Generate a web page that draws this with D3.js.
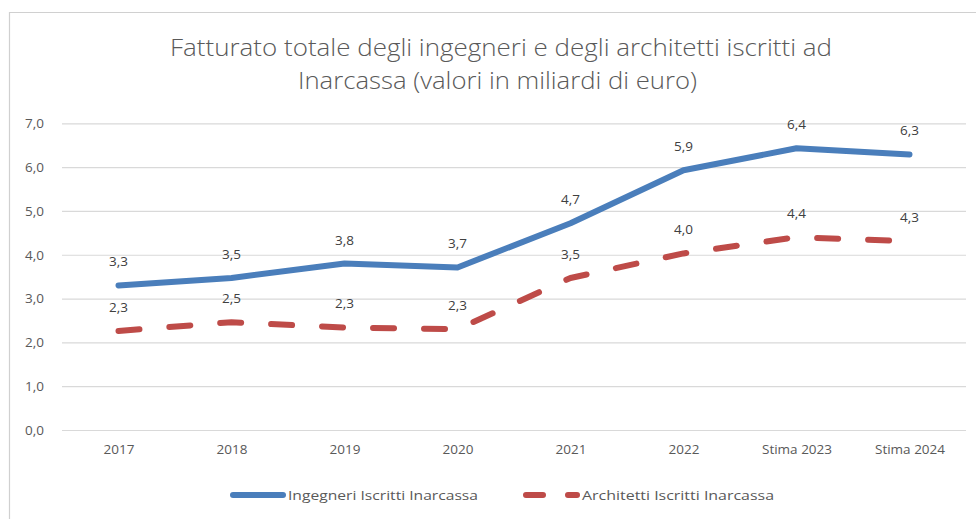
<!DOCTYPE html>
<html><head><meta charset="utf-8">
<script src="https://cdn.jsdelivr.net/npm/d3@7"></script>
<style>
html,body{margin:0;padding:0;background:#fff;}
svg{display:block;font-family:"Open Sans",Lato,sans-serif;}
</style></head>
<body><svg id="c" width="976" height="519"></svg>
<script>
const categories = ["2017","2018","2019","2020","2021","2022","Stima 2023","Stima 2024"];
const ingegneri = [3.30,3.47,3.80,3.71,4.72,5.93,6.43,6.29];
const architetti = [2.26,2.46,2.34,2.30,3.47,4.03,4.40,4.31];
const yTicks = [0,1,2,3,4,5,6,7];
const seriesNames = ["Ingegneri Iscritti Inarcassa","Architetti Iscritti Inarcassa"];
const titleLines = ["Fatturato totale degli ingegneri e degli architetti iscritti ad","Inarcassa (valori in miliardi di euro)"];

(function(){
const svg = d3.select("#c");
const W = 976, H = 519;
const pL = 62, pR = 966, pT = 123.3, pB = 430;

// frame
svg.append("path").attr("d", `M9.5,${H} V12.5 H${W}`).attr("fill","none").attr("stroke","#d0d0d0").attr("stroke-width",1.2);

// title
const titleW = [662, 399];
svg.append("g").selectAll("text").data(titleLines).join("text")
  .attr("x", (d,i)=> i===0 ? 501 : 497.5)
  .attr("y", (d,i)=> 56 + i*33)
  .attr("text-anchor","middle")
  .attr("font-size", 23.5)
  .attr("font-weight", 300)
  .attr("fill","#595959")
  .attr("textLength",(d,i)=>titleW[i])
  .attr("lengthAdjust","spacingAndGlyphs")
  .text(d=>d);

const x = d3.scalePoint().domain(categories).range([pL, pR]).padding(0.5);
const y = d3.scaleLinear().domain([0,7]).range([pB, pT]);

// gridlines + y axis
const yAxis = d3.axisLeft(y).tickValues(yTicks).tickSize(-(pR-pL)).tickPadding(18)
  .tickFormat(d=>d3.format(".1f")(d).replace(".",","));
const gy = svg.append("g").attr("transform",`translate(${pL},0)`).call(yAxis);
gy.select(".domain").remove();
gy.selectAll(".tick line").attr("stroke","#d9d9d9").attr("stroke-width",1.2);
gy.selectAll(".tick text").attr("fill","#595959").attr("font-size",13.5).attr("font-family","'Open Sans',sans-serif");

// x axis labels
const xAxis = d3.axisBottom(x).tickSize(0).tickPadding(14);
const gx = svg.append("g").attr("transform",`translate(0,${pB})`).call(xAxis);
gx.select(".domain").remove();
gx.selectAll(".tick text").attr("fill","#595959").attr("font-size",13.5).attr("font-family","'Open Sans',sans-serif");

const line = d3.line().x((d,i)=>x(categories[i])).y(d=>y(d));
const blue = "#4a7ebb", red = "#be4b48";

svg.append("path").datum(architetti).attr("d",line).attr("fill","none")
  .attr("stroke",red).attr("stroke-width",6).attr("stroke-linecap","round").attr("stroke-linejoin","round")
  .attr("stroke-dasharray","21,30");
svg.append("path").datum(ingegneri).attr("d",line).attr("fill","none")
  .attr("stroke",blue).attr("stroke-width",6).attr("stroke-linecap","round").attr("stroke-linejoin","round");

const fmt = v => d3.format(".1f")(v).replace(".",",");
function labels(data){
  svg.append("g").selectAll("text").data(data).join("text")
    .attr("x",(d,i)=>x(categories[i]))
    .attr("y",d=>y(d)-19)
    .attr("text-anchor","middle")
    .attr("font-size",13.5)
    .attr("fill","#404040")
    .text(fmt);
}
labels(ingegneri);
labels(architetti);

// legend
const lg = svg.append("g");
lg.append("line").attr("x1",233).attr("x2",283).attr("y1",495).attr("y2",495)
  .attr("stroke",blue).attr("stroke-width",6).attr("stroke-linecap","round");
lg.append("text").attr("x",288).attr("y",500).attr("font-size",13.5).attr("fill","#595959")
  .attr("textLength",190).attr("lengthAdjust","spacingAndGlyphs").text(seriesNames[0]);
lg.append("line").attr("x1",526).attr("x2",577).attr("y1",495).attr("y2",495)
  .attr("stroke",red).attr("stroke-width",6).attr("stroke-linecap","round").attr("stroke-dasharray","17,25");
lg.append("text").attr("x",582).attr("y",500).attr("font-size",13.5).attr("fill","#595959")
  .attr("textLength",192).attr("lengthAdjust","spacingAndGlyphs").text(seriesNames[1]);
})();
</script></body></html>
